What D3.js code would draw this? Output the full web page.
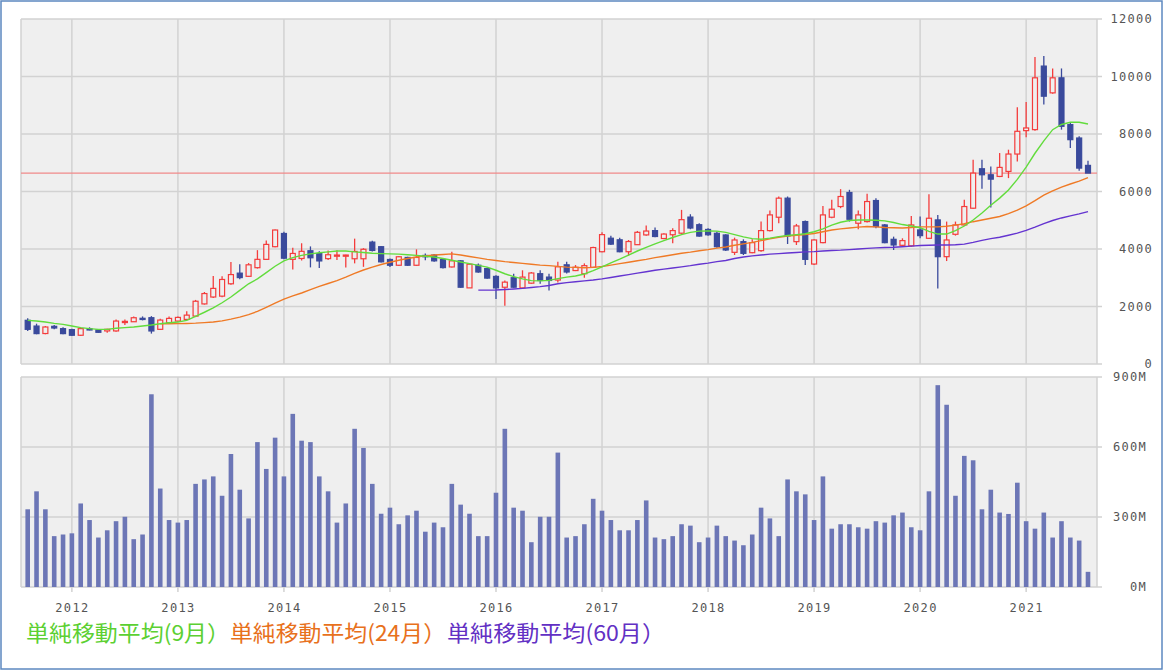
<!DOCTYPE html>
<html>
<head>
<meta charset="utf-8">
<script src="https://cdn.jsdelivr.net/npm/d3@7"></script>
<style>
  body { margin: 0; background: #fff; }
  svg { display: block; }
</style>
</head>
<body>
<svg id="chart" width="1165" height="671"></svg>
<script>
// monthly candles, 2011-08 .. 2021-08
const months = d3.timeMonth.range(new Date(2011, 7, 1), new Date(2021, 8, 1));

const open = [1520,1320,1060,1310,1230,1195,1000,1225,1185,1150,1150,1460,1470,1590,1610,1206,1436,1494,1551,1666,
  2090,2330,2360,2790,3160,3050,3350,3640,4080,4540,3640,3670,3940,3840,3665,3750,3760,3660,3660,4240,
  4080,3635,3435,3706,3435,3776,3788,3635,3376,3588,2647,3435,3318,3047,2670,3000,2647,2812,3141,3023,
  2920,3450,3250,3140,3365,3905,4375,4320,3905,4150,4490,4640,4365,4495,4550,5110,4845,4680,4546,4488,
  3884,4256,3872,3942,4640,5105,5768,4256,4954,3477,4221,5105,5477,5965,4896,4954,5686,4837,4337,4128,
  4110,4663,4372,5012,3733,4512,4837,5419,6791,6582,6524,6698,7303,8117,8152,10362,9431,9954,8326,7861,
  6908];
const high = [1590,1402,1321,1356,1276,1229,1264,1276,1206,1229,1551,1551,1655,1655,1666,1574,1655,1655,1838,2229,
  2505,3060,3050,3550,3470,3510,3960,4300,4680,4600,4040,4200,4090,3920,3950,3960,3800,4360,4030,4290,
  4106,3671,3753,3730,3988,3847,3824,3671,3906,3612,3494,3494,3353,3083,2906,3141,3259,3200,3259,3141,
  3558,3558,3442,3500,4081,4581,4465,4395,4314,4628,4814,4744,4547,4721,5361,5210,4895,4721,4605,4512,
  4395,4337,4337,4954,5337,5826,5826,4872,4989,4337,5500,5710,6082,6059,5337,5919,5768,4872,4430,4372,
  5151,5128,5907,5186,4954,4954,5710,7105,7105,6873,7338,7454,8931,9117,10676,10711,10280,10280,8384,7919,
  7070];
const low = [1149,1034,1034,1206,1034,977,977,1172,1091,1091,1126,1356,1459,1517,1057,1183,1402,1471,1528,1632,
  2068,2298,2321,2757,2950,3030,3320,3620,4060,3640,3290,3600,3360,3340,3620,3620,3360,3500,3380,3910,
  3530,3377,3412,3412,3412,3612,3553,3318,3353,2648,2648,3177,2965,2260,2024,2648,2612,2789,2789,2554,
  2837,3151,3232,3000,3349,3884,4140,3884,3767,4140,4465,4407,4337,4198,4512,4686,4430,4465,4046,3930,
  3791,3791,3849,3907,4605,4896,4174,4140,3442,3442,4198,5070,5419,4954,4686,4919,4721,4198,3965,4081,
  4081,4372,4349,2628,3581,4465,4814,5396,6093,5442,6500,6466,7047,7884,8117,9024,9396,8152,7512,6721,
  6640];
const close = [1206,1057,1287,1252,1057,1000,1230,1210,1103,1206,1494,1483,1609,1565,1149,1528,1586,1620,1700,2183,
  2450,2630,2940,3110,3005,3450,3640,4160,4660,3680,3845,3920,3695,3585,3800,3790,3790,3915,3990,3950,
  3553,3435,3730,3435,3706,3730,3588,3353,3588,2671,3471,3200,2988,2647,2847,2671,3023,3165,2906,2906,
  3380,3200,3365,3420,4050,4500,4170,3905,4260,4580,4625,4435,4520,4640,5020,4730,4450,4495,4081,3965,
  4314,3849,4221,4640,5186,5768,4454,4802,3640,4314,5186,5384,5826,5035,5186,5651,4779,4221,4140,4291,
  4837,4465,5070,3733,4314,4837,5477,6640,6582,6430,6838,7303,8094,8210,9954,9315,9954,8268,7803,6814,
  6640];

// monthly volume, millions of shares
const volume = [333,410,333,218,225,230,358,287,212,243,282,301,205,225,826,422,287,276,287,442,
  461,474,391,570,417,294,621,506,640,474,742,627,621,474,410,276,358,678,596,442,
  314,340,269,307,327,237,276,256,442,353,314,218,218,404,678,340,327,192,301,301,
  576,212,218,269,378,327,287,243,243,287,371,212,205,218,269,263,192,212,263,218,
  199,179,225,340,294,218,461,410,397,287,474,250,269,269,256,250,282,276,307,319,
  256,243,410,865,781,391,562,543,333,417,319,313,447,282,250,319,212,282,212,199,
  65];

// simple moving averages (9, 24 and 60 months)
const sma9 = [1517,1494,1459,1413,1379,1321,1264,1229,1206,1206,1241,1264,1287,1321,1356,1402,1436,1459,1517,1660,
  1800,1950,2130,2330,2560,2790,2960,3180,3400,3590,3700,3780,3830,3870,3900,3930,3930,3900,3880,3850,
  3840,3830,3820,3800,3780,3750,3720,3670,3610,3550,3490,3430,3370,3260,3140,3040,2960,2900,2890,2910,
  2970,3020,3060,3130,3250,3380,3520,3650,3790,3930,4060,4180,4290,4400,4500,4580,4620,4630,4620,4580,
  4500,4420,4360,4340,4380,4430,4470,4500,4530,4600,4700,4830,4930,4990,5010,5010,5000,4980,4920,4850,
  4800,4740,4610,4520,4520,4640,4800,5010,5250,5520,5770,6050,6420,6850,7330,7760,8150,8330,8410,8410,
  8350];
const sma24 = [null,null,null,null,null,null,null,null,null,null,null,null,null,null,null,1400,1400,1405,1410,1420,
  1440,1460,1500,1560,1630,1720,1830,1970,2120,2260,2370,2470,2590,2700,2800,2900,3020,3150,3270,3370,
  3460,3540,3610,3670,3720,3760,3790,3810,3830,3790,3740,3690,3640,3600,3560,3530,3500,3470,3440,3420,
  3395,3370,3360,3350,3360,3390,3440,3490,3540,3590,3640,3700,3750,3800,3850,3890,3940,3980,4030,4070,
  4130,4180,4230,4290,4350,4410,4450,4480,4500,4540,4600,4660,4700,4730,4760,4780,4770,4750,4740,4730,
  4750,4770,4770,4770,4790,4830,4880,4950,5010,5070,5130,5230,5350,5500,5680,5870,6020,6150,6260,6360,
  6480];
const sma60 = [null,null,null,null,null,null,null,null,null,null,null,null,null,null,null,null,null,null,null,null,
  null,null,null,null,null,null,null,null,null,null,null,null,null,null,null,null,null,null,null,null,
  null,null,null,null,null,null,null,null,null,null,null,2570,2570,2575,2590,2610,2630,2660,2690,2730,
  2790,2830,2860,2890,2920,2960,3010,3060,3110,3160,3210,3260,3300,3340,3380,3420,3470,3510,3560,3600,
  3670,3720,3760,3790,3820,3840,3860,3880,3900,3910,3930,3950,3960,3980,4000,4020,4040,4050,4060,4080,
  4100,4120,4130,4140,4140,4150,4170,4230,4300,4360,4410,4480,4550,4650,4760,4880,4990,5080,5150,5220,
  5300];

const lastPrice = 6640;
const yearTicks = [2012, 2013, 2014, 2015, 2016, 2017, 2018, 2019, 2020, 2021];
const priceTicks = [0, 2000, 4000, 6000, 8000, 10000, 12000];
const volumeTicks = [0, 300, 600, 900];

const legendItems = [
    { label: "単純移動平均(9月）", color: "#5cd032", x: 26, w: 204 },
    { label: "単純移動平均(24月）", color: "#e8711c", x: 230, w: 216 },
    { label: "単純移動平均(60月）", color: "#6230c4", x: 447, w: 218 }
];

const rows = months.map((date, i) => ({
    i, date,
    open: open[i], high: high[i], low: low[i], close: close[i],
    volume: volume[i], ma9: sma9[i], ma24: sma24[i], ma60: sma60[i]
}));

const width = 1165, height = 671;
const plotLeft = 21, plotRight = 1097;
const upper = { top: 19, bottom: 364 };
const lower = { top: 377, bottom: 587 };
const bg = "#efefef", gridColor = "#d2d2d2";
const upColor = "#f43c3c", downColor = "#3a4a9c", volColor = "#6c76b6";
const tickFont = "'DejaVu Sans Mono', monospace";

const svg = d3.select("#chart");

const x = d3.scalePoint()
    .domain(rows.map(d => d.i))
    .range([27.7, 1088]);

const y = d3.scaleLinear().domain([0, 12000]).range([upper.bottom, upper.top]);
const yVol = d3.scaleLinear().domain([0, 900]).range([lower.bottom, lower.top]);

const janIndex = yr => rows.findIndex(d => d.date.getFullYear() === yr && d.date.getMonth() === 0);

// outer frame
svg.append("rect")
    .attr("x", 1).attr("y", 1)
    .attr("width", width - 4).attr("height", height - 3)
    .attr("fill", "#fff")
    .attr("stroke", "#5c88c0")
    .attr("stroke-width", 1.5);

// panel backgrounds
[upper, lower].forEach(p => {
    svg.append("rect")
        .attr("x", plotLeft).attr("y", p.top)
        .attr("width", plotRight - plotLeft).attr("height", p.bottom - p.top)
        .attr("fill", bg);
});

// gridlines and panel borders
const grid = svg.append("g").attr("stroke", gridColor).attr("stroke-width", 1.5);
yearTicks.forEach(yr => {
    const gx = x(janIndex(yr));
    grid.append("line").attr("x1", gx).attr("x2", gx).attr("y1", upper.top).attr("y2", upper.bottom);
    grid.append("line").attr("x1", gx).attr("x2", gx).attr("y1", lower.top).attr("y2", lower.bottom + 5);
});
priceTicks.forEach(v => {
    grid.append("line").attr("x1", plotLeft).attr("x2", plotRight + 5).attr("y1", y(v)).attr("y2", y(v));
});
volumeTicks.forEach(v => {
    grid.append("line").attr("x1", plotLeft).attr("x2", plotRight + 5).attr("y1", yVol(v)).attr("y2", yVol(v));
});
[upper, lower].forEach(p => {
    grid.append("line").attr("x1", plotLeft).attr("x2", plotLeft).attr("y1", p.top).attr("y2", p.bottom);
    grid.append("line").attr("x1", plotRight).attr("x2", plotRight).attr("y1", p.top).attr("y2", p.bottom);
});

// latest price line
svg.append("line")
    .attr("x1", plotLeft).attr("x2", plotRight)
    .attr("y1", y(lastPrice)).attr("y2", y(lastPrice))
    .attr("stroke", "#f08a8a").attr("stroke-width", 1.2);

// candles
const candles = svg.append("g")
    .selectAll("g")
    .data(rows)
    .join("g")
    .attr("transform", d => `translate(${x(d.i)},0)`);

candles.append("line")
    .attr("y1", d => y(d.high))
    .attr("y2", d => y(d.low))
    .attr("stroke", d => d.close >= d.open ? upColor : downColor)
    .attr("stroke-width", 1.3);

candles.append("rect")
    .attr("x", -2.5)
    .attr("width", 5)
    .attr("y", d => y(Math.max(d.open, d.close)))
    .attr("height", d => Math.max(1.2, Math.abs(y(d.open) - y(d.close))))
    .attr("fill", d => d.close >= d.open ? bg : downColor)
    .attr("stroke", d => d.close >= d.open ? upColor : downColor)
    .attr("stroke-width", 1.2);

// moving averages
const maLine = key => d3.line()
    .defined(d => d[key] != null)
    .x(d => x(d.i))
    .y(d => y(d[key]));

[["ma60", "#6434d0"], ["ma24", "#ef7a26"], ["ma9", "#62dc3c"]].forEach(([key, color]) => {
    svg.append("path")
        .datum(rows)
        .attr("fill", "none")
        .attr("stroke", color)
        .attr("stroke-width", 1.4)
        .attr("d", maLine(key));
});

// volume bars
svg.append("g")
    .selectAll("rect")
    .data(rows)
    .join("rect")
    .attr("x", d => x(d.i) - 2.3)
    .attr("width", 4.6)
    .attr("y", d => yVol(d.volume))
    .attr("height", d => yVol(0) - yVol(d.volume))
    .attr("fill", volColor);

// right axes
const styleAxis = (g, anchorX) => {
    g.select(".domain").remove();
    g.selectAll(".tick line").remove();
    g.selectAll("text")
        .attr("x", anchorX)
        .attr("text-anchor", "end")
        .attr("fill", "#555")
        .style("font-family", tickFont)
        .style("font-size", "12px")
        .style("letter-spacing", "1.3px");
};

svg.append("g")
    .attr("transform", `translate(${plotRight},0)`)
    .call(d3.axisRight(y).tickValues(priceTicks).tickFormat(d3.format("d")))
    .call(g => styleAxis(g, 56));

svg.append("g")
    .attr("transform", `translate(${plotRight},0)`)
    .call(d3.axisRight(yVol).tickValues(volumeTicks).tickFormat(d => d + "M"))
    .call(g => styleAxis(g, 50));

// year labels
svg.append("g")
    .attr("transform", `translate(0,${lower.bottom})`)
    .call(d3.axisBottom(x)
        .tickValues(yearTicks.map(janIndex))
        .tickFormat(i => rows[i].date.getFullYear())
        .tickSize(0)
        .tickPadding(16))
    .call(g => {
        g.select(".domain").remove();
        g.selectAll("text")
            .attr("fill", "#555")
            .style("font-family", tickFont)
            .style("font-size", "12px")
            .style("letter-spacing", "1.3px");
    });

// legend
svg.append("g")
    .selectAll("text")
    .data(legendItems)
    .join("text")
    .attr("x", d => d.x)
    .attr("y", 641)
    .attr("fill", d => d.color)
    .attr("textLength", d => d.w)
    .attr("lengthAdjust", "spacingAndGlyphs")
    .style("font-family", "'Noto Sans CJK JP', sans-serif")
    .style("font-size", "22px")
    .text(d => d.label);
</script>
</body>
</html>
